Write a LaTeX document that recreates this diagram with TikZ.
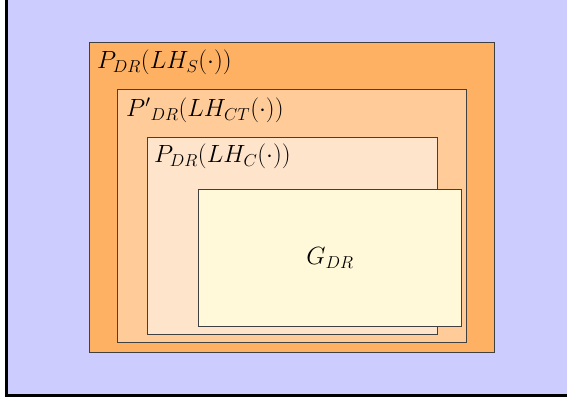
\documentclass[tikz,border=0pt]{standalone}
\usepackage{amsmath}
\usetikzlibrary{positioning}

\definecolor{bgblue}{HTML}{CCCCFF}
\definecolor{sorange}{HTML}{FFB163}
\definecolor{ctorange}{HTML}{FFCC99}
\definecolor{corange}{HTML}{FFE4CC}
\definecolor{gyellow}{HTML}{FFF9D9}

\begin{document}
\begin{tikzpicture}[x=1pt, y=-1pt,
  box/.style={draw=black!75, line width=0.9pt, inner sep=0pt, anchor=north west},
  lbl/.style={inner sep=0pt, anchor=base west, font=\fontsize{23}{27}\selectfont}]
  \useasboundingbox (0,0) rectangle (567,403);
  \fill[bgblue] (6,-5) rectangle (575,396);
  \draw[line width=2.4pt] (6.5,-5) -- (6.5,395.5) -- (575,395.5);

  \node[box, fill=sorange, minimum width=405pt, minimum height=310pt] (ps) at (89,42) {};
  \node[box, fill=ctorange, minimum width=349pt, minimum height=253pt] (pct) at (117,89) {};
  \node[box, fill=corange, minimum width=290pt, minimum height=197pt] (pc) at (147,137) {};
  \node[box, fill=gyellow, minimum width=263pt, minimum height=137pt] (g) at (198,189) {};

  \node[lbl] (lps) at (97,69) {$P_{DR}(LH_S(\cdot))$};
  \node[lbl] (lpct) at (126,117) {${P'}_{DR}(LH_{CT}(\cdot))$};
  \node[lbl] (lpc) at (154,163) {$P_{DR}(LH_C(\cdot))$};
  \node[lbl, anchor=center] (lg) at (g.center) {$G_{DR}$};
\end{tikzpicture}
\end{document}
